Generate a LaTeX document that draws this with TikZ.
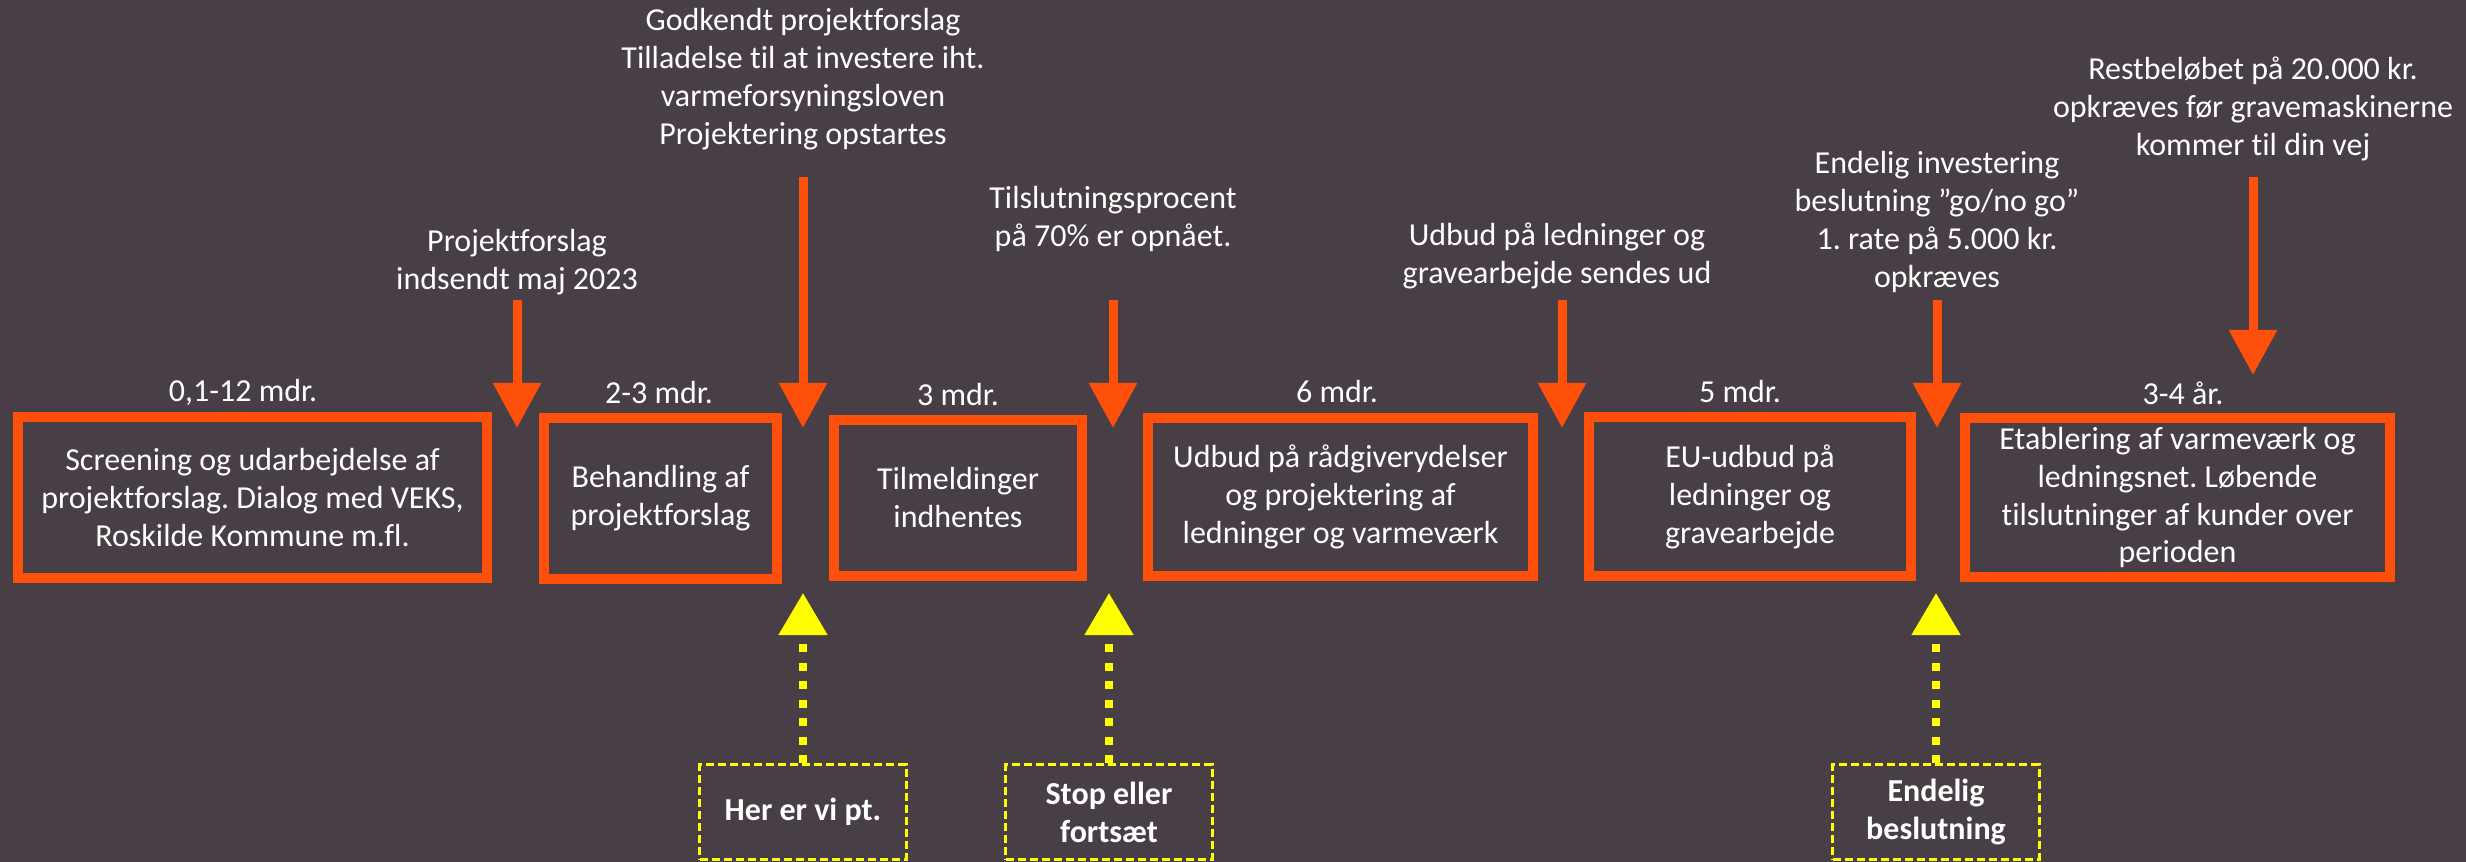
\documentclass[tikz,border=0pt]{standalone}
\usepackage{fontspec}
\setmainfont{Carlito}[Ligatures={NoCommon}]
\usepackage{tikz}
\usetikzlibrary{arrows.meta,positioning}
\definecolor{bgplum}{RGB}{72,62,70}
\definecolor{fireorange}{RGB}{254,80,10}
\definecolor{signyellow}{RGB}{255,255,0}
\frenchspacing

\begin{document}
\begin{tikzpicture}[x=0.01cm, y=-0.01cm, text=white,
	every node/.style={font=\fontsize{9.1pt}{10.8pt}\selectfont, align=center, inner sep=0pt},
	phase/.style={draw=fireorange, line width=0.1cm},
	milestone/.style={draw=fireorange, line width=0.09cm, -{Triangle[width=0.46cm, length=0.45cm]}},
	gate/.style={draw=signyellow, line width=0.03cm, dash pattern=on 0.08cm off 0.04cm, minimum width=2.06cm, minimum height=0.94cm, font=\fontsize{9.1pt}{10.8pt}\selectfont\bfseries},
	pointer/.style={draw=signyellow, line width=0.08cm, dash pattern=on 0.08cm off 0.105cm, -{Triangle[width=0.47cm, length=0.42cm]}}]
\def \tipy {428}
\def \shafty {300}
\def \gatetip {593}

\useasboundingbox (0,0) rectangle (2466,862);
\fill[bgplum] (0,0) rectangle (2466,862);

%Phase boxes
\node[phase, minimum width=4.69cm, minimum height=1.61cm] (b1) at (252.5,497.5) {Screening og udarbejdelse af\\projektforslag. Dialog med VEKS,\\Roskilde Kommune m.fl.};
\node[phase, minimum width=2.33cm, minimum height=1.61cm] (b2) at (660.5,498.5) {Behandling af\\projektforslag};
\node[phase, minimum width=2.48cm, minimum height=1.56cm] (b3) at (958,498) {Tilmeldinger\\indhentes};
\node[phase, minimum width=3.85cm, minimum height=1.58cm] (b4) at (1340.5,497) {Udbud på rådgiverydelser\\og projektering af\\ledninger og varmeværk};
\node[phase, minimum width=3.22cm, minimum height=1.59cm] (b5) at (1750,496.5) {EU-udbud på\\ledninger og\\gravearbejde};
\node[phase, minimum width=4.25cm, minimum height=1.59cm] (b6) at (2177.5,497.5) {Etablering af varmeværk og\\ledningsnet. Løbende\\tilslutninger af kunder over\\perioden};

%Durations
\node (d1) at (243,392) {0,1-12 mdr.};
\node (d2) at (659,393) {2-3 mdr.};
\node (d3) at (958,395) {3 mdr.};
\node (d4) at (1337,392) {6 mdr.};
\node (d5) at (1740,392) {5 mdr.};
\node (d6) at (2183,393) {3-4 år.};

%Milestone texts
\node (m1) at (517,262) {Projektforslag\\indsendt maj 2023};
\node (m2) at (803,79) {Godkendt projektforslag\\Tilladelse til at investere iht.\\varmeforsyningsloven\\Projektering opstartes};
\node (m3) at (1113,219) {Tilslutningsprocent\\på 70\% er opnået.};
\node (m4) at (1557,256) {Udbud på ledninger og\\gravearbejde sendes ud};
\node (m5) at (1937,222) {Endelig investering\\beslutning ”go/no go”\\1. rate på 5.000 kr.\\opkræves};
\node (m6) at (2253,109) {Restbeløbet på 20.000 kr.\\opkræves før gravemaskinerne\\kommer til din vej};

%Milestone arrows
\coordinate (m1s) at (517,\shafty);
\coordinate (m1e) at (517,\tipy);
\coordinate (m2s) at (803,177);
\coordinate (m2e) at (803,\tipy);
\coordinate (m3s) at (1113,\shafty);
\coordinate (m3e) at (1113,\tipy);
\coordinate (m4s) at (1562,\shafty);
\coordinate (m4e) at (1562,\tipy);
\coordinate (m5s) at (1937,\shafty);
\coordinate (m5e) at (1937,\tipy);
\coordinate (m6s) at (2253,177);
\coordinate (m6e) at (2253,375);
\draw[milestone] (m1s) -- (m1e);
\draw[milestone] (m2s) -- (m2e);
\draw[milestone] (m3s) -- (m3e);
\draw[milestone] (m4s) -- (m4e);
\draw[milestone] (m5s) -- (m5e);
\draw[milestone] (m6s) -- (m6e);

%Decision gates
\node[gate] (g1) at (803,812) {Her er vi pt.};
\node[gate] (g2) at (1109,812) {Stop eller\\fortsæt};
\node[gate] (g3) at (1936,812) {Endelig\\beslutning};
\coordinate (g1t) at (803,\gatetip);
\coordinate (g2t) at (1109,\gatetip);
\coordinate (g3t) at (1936,\gatetip);
\draw[pointer] (g1.north) -- (g1t);
\draw[pointer] (g2.north) -- (g2t);
\draw[pointer] (g3.north) -- (g3t);

\end{tikzpicture}
\end{document}
